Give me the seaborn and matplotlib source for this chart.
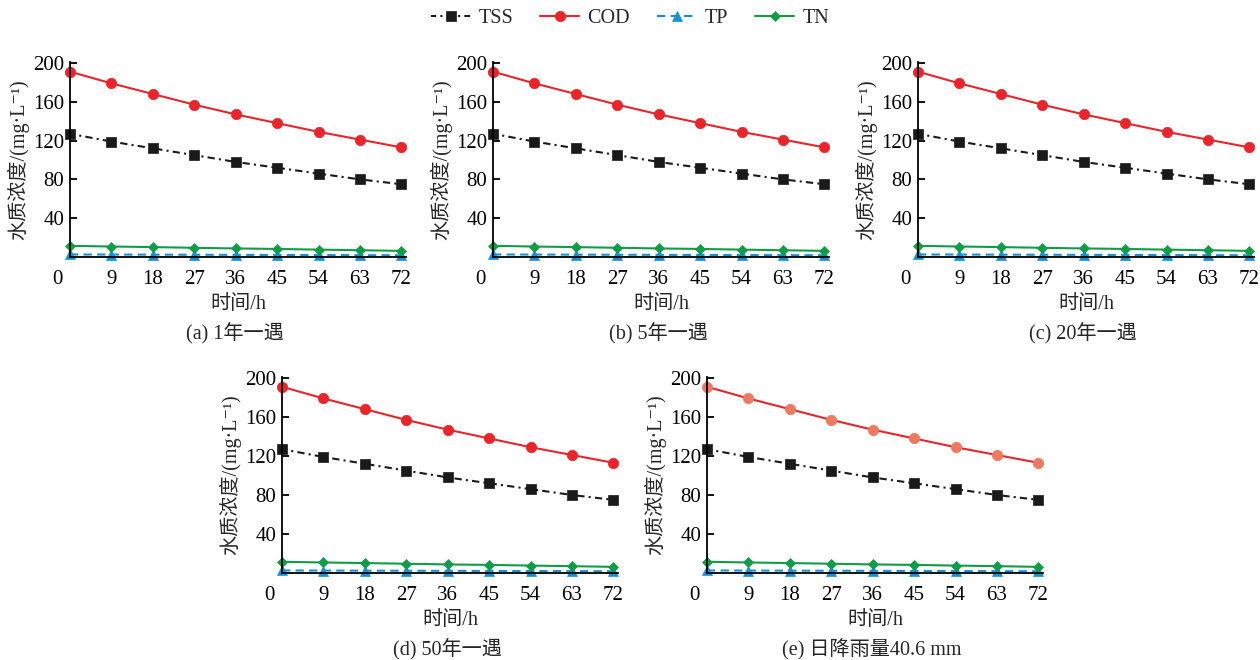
import matplotlib
matplotlib.use('Agg')
import matplotlib.pyplot as plt
import matplotlib.transforms as mtransforms
import pandas as pd
import seaborn as sns

# time axis (h) and concentrations (mg/L)
hours = [0, 9, 18, 27, 36, 45, 54, 63, 72]
tss = [127, 119, 112, 105, 98, 92, 86, 80, 75]
cod = [191, 179, 168, 157, 147, 138, 129, 121, 113]
tp = [2.6, 2.5, 2.4, 2.3, 2.2, 2.1, 2.0, 1.9, 1.8]
tn = [11.5, 10.8, 10.2, 9.5, 8.8, 8.3, 7.6, 7.0, 6.3]

panel_titles = ['(a) 1年一遇', '(b) 5年一遇', '(c) 20年一遇',
                '(d) 50年一遇', '(e) 日降雨量40.6 mm']
y_ticks = [40, 80, 120, 160, 200]
x_ticks = [0, 9, 18, 27, 36, 45, 54, 63, 72]

sns.set_theme(style='ticks')
plt.rcParams['font.family'] = ['Liberation Serif', 'DejaVu Serif', 'Noto Sans CJK SC']
plt.rcParams['axes.unicode_minus'] = False

df = pd.DataFrame({'t': hours, 'TSS': tss, 'COD': cod, 'TP': tp, 'TN': tn})

series = [
    ('TSS', '#1a1a1a', 's', (1, (3.5, 2, 1, 2)), 6.5),
    ('COD', '#e8252b', 'o', '-', 7.5),
    ('TP', '#1b8fd6', '^', (0, (4, 2.5)), 7),
    ('TN', '#119c48', 'D', '-', 5.2),
]

fig = plt.figure(figsize=(12.6, 6.6), dpi=100)
W, H = 1260, 660
# axes rectangles measured in pixels: (left spine x, top y, right x, bottom y)
boxes = [(70, 62, 406, 257), (493, 62, 829, 257), (918, 62, 1254, 257),
         (282, 377, 618, 573), (707, 377, 1043, 573)]

for i, (x0, y0, x1, y1) in enumerate(boxes):
    ax = fig.add_axes([x0 / W, 1 - y1 / H, (x1 - x0) / W, (y1 - y0) / H])
    for name, color, marker, ls, ms in series:
        face = color
        if i == 4 and name == 'COD':
            face = '#ec7a62'
        sns.lineplot(data=df, x='t', y=name, ax=ax, color=color, marker=marker,
                     linestyle=ls, markersize=ms, markerfacecolor=face,
                     markeredgecolor=face, markeredgewidth=0.5, linewidth=1.5,
                     label=name, legend=False, clip_on=False)
    ax.set_xlim(0, 73)
    ax.set_ylim(0, 201)
    ax.set_xticks(x_ticks)
    ax.set_yticks(y_ticks)
    ax.tick_params(axis='y', direction='in', length=5, width=1.3, pad=4,
                   labelsize=15, colors='black')
    ax.tick_params(axis='x', length=0, pad=9, labelsize=15, colors='black')
    for side in ['top', 'right']:
        ax.spines[side].set_visible(False)
    for side in ['left', 'bottom']:
        ax.spines[side].set_linewidth(1.3)
        ax.spines[side].set_color('black')
    ax.set_xlabel('时间/h', fontsize=14.5, labelpad=5)
    ax.set_ylabel('水质浓度/(mg·L⁻¹)', fontsize=14.5, labelpad=3)
    # the origin "0" sits left of the y spine
    zero = ax.get_xticklabels()[0]
    zero.set_transform(zero.get_transform() +
                       mtransforms.ScaledTranslation(-0.13, 0, fig.dpi_scale_trans))
    ax.annotate(panel_titles[i], xy=(0.5, 0), xycoords='axes fraction',
                xytext=(-2, -55), textcoords='offset points',
                ha='center', va='center', fontsize=14.5)

handles, labels = fig.axes[0].get_legend_handles_labels()
fig.legend(handles, labels, loc='center', bbox_to_anchor=(0.5, 0.972), ncol=4,
           frameon=False, fontsize=14.5, handlelength=1.95, handletextpad=0.4,
           columnspacing=1.35)

fig.savefig('out.png', dpi=100, facecolor='white')
